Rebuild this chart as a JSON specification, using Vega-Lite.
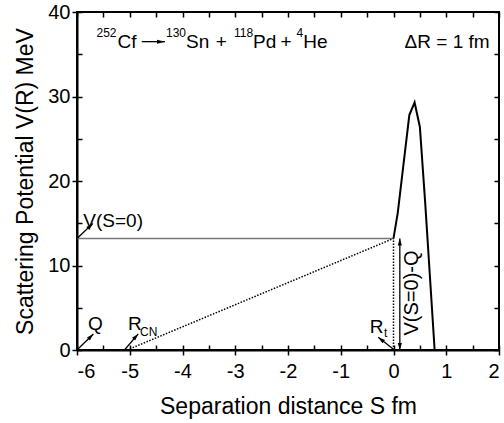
{
  "$schema": "https://vega.github.io/schema/vega-lite/v6.json",
  "width": 422,
  "height": 338,
  "autosize": "none",
  "padding": {"left": 77, "top": 12, "right": 5, "bottom": 73},
  "background": "white",
  "config": {
    "view": {"stroke": "black", "strokeWidth": 2},
    "font": "Liberation Sans",
    "axis": {"labelFont": "Liberation Sans", "titleFont": "Liberation Sans", "labelColor": "black", "titleColor": "black", "tickColor": "black", "domainColor": "black", "tickWidth": 1.5, "domainWidth": 2, "grid": false, "labelFontSize": 20, "titleFontSize": 23, "titleFontWeight": "normal"},
    "text": {"font": "Liberation Sans", "color": "black"}
  },
  "datasets": {
    "curve": [
      {"S": 0, "V": 13.2},
      {"S": 0.08, "V": 16.2},
      {"S": 0.3, "V": 27.8},
      {"S": 0.4, "V": 29.3},
      {"S": 0.5, "V": 26.4},
      {"S": 0.6, "V": 17.5},
      {"S": 0.78, "V": 0}
    ],
    "flat": [{"S": -6, "V": 13.2}, {"S": 0, "V": 13.2}],
    "dotted": [
      {"seg": "a", "S": -5.05, "V": 0}, {"seg": "a", "S": 0, "V": 13.2},
      {"seg": "b", "S": 0, "V": 0}, {"seg": "b", "S": 0, "V": 13.2}
    ],
    "arrows": [
      {"name": "Q", "x": -6, "y": 0, "x2": -5.69, "y2": 1.9},
      {"name": "RCN", "x": -5.1, "y": 0, "x2": -4.84, "y2": 1.9},
      {"name": "VS0", "x": -6, "y": 13.2, "x2": -5.7, "y2": 14.96},
      {"name": "Rt", "x": 0, "y": 0.1, "x2": -0.29, "y2": 1.5},
      {"name": "double", "x": 0.12, "y": 0, "x2": 0.12, "y2": 13.2},
      {"name": "reaction", "x": -4.773, "y": 36.49, "x2": -4.332, "y2": 36.49}
    ],
    "labels": [
      {"kind": "main", "text": "Q", "x": -5.79, "y": 2.33},
      {"kind": "main", "text": "R", "x": -5.033, "y": 2.37},
      {"kind": "small", "text": "CN", "x": -4.806, "y": 1.66},
      {"kind": "main", "text": "V(S=0)", "x": -5.88, "y": 14.59},
      {"kind": "main", "text": "R", "x": -0.45, "y": 2.01},
      {"kind": "small", "text": "t", "x": -0.18, "y": 1.54},
      {"kind": "main", "text": "ΔR = 1 fm", "x": 0.21, "y": 35.7},
      {"kind": "small", "text": "252", "x": -5.63, "y": 37.04},
      {"kind": "main", "text": "Cf", "x": -5.232, "y": 35.7},
      {"kind": "small", "text": "130", "x": -4.313, "y": 37.04},
      {"kind": "main", "text": "Sn", "x": -3.934, "y": 35.7},
      {"kind": "main", "text": "+", "x": -3.37, "y": 35.7},
      {"kind": "small", "text": "118", "x": -3.024, "y": 37.04},
      {"kind": "main", "text": "Pd", "x": -2.664, "y": 35.7},
      {"kind": "main", "text": "+", "x": -2.14, "y": 35.7},
      {"kind": "small", "text": "4", "x": -1.84, "y": 37.04},
      {"kind": "main", "text": "He", "x": -1.71, "y": 35.7}
    ],
    "vlabel": [{"text": "V(S=0)-Q", "x": 0.351, "y": 6.75}]
  },
  "resolve": {"axis": {"x": "independent", "y": "independent"}},
  "layer": [
    {
      "data": {"name": "curve"},
      "mark": {"type": "line", "color": "black", "strokeWidth": 2},
      "encoding": {
        "x": {"field": "S", "type": "quantitative", "scale": {"domain": [-6, 2], "nice": false, "zero": false},
              "axis": {"orient": "bottom", "values": [-6, -5, -4, -3, -2, -1, 0, 1, 2], "tickSize": 5, "labelPadding": 6, "title": "Separation distance S fm", "titlePadding": 14, "labelExpr": "datum.value < 0 ? '-' + abs(datum.value) : '' + datum.value"}},
        "y": {"field": "V", "type": "quantitative", "scale": {"domain": [0, 40], "nice": false},
              "axis": {"orient": "left", "values": [0, 10, 20, 30, 40], "tickSize": 5, "labelPadding": 2, "title": "Scattering Potential V(R) MeV", "titlePadding": 10}}
      }
    },
    {
      "data": {"name": "flat"},
      "mark": {"type": "line", "color": "#777777", "strokeWidth": 1.5},
      "encoding": {
        "x": {"field": "S", "type": "quantitative",
              "axis": {"orient": "bottom", "values": [-6, -5.5, -5, -4.5, -4, -3.5, -3, -2.5, -2, -1.5, -1, -0.5, 0, 0.5, 1, 1.5, 2], "tickSize": -5, "labels": false, "domain": false, "title": null}},
        "y": {"field": "V", "type": "quantitative",
              "axis": {"orient": "left", "values": [0, 5, 10, 15, 20, 25, 30, 35, 40], "tickSize": -5, "labels": false, "domain": false, "title": null}}
      }
    },
    {
      "data": {"name": "dotted"},
      "mark": {"type": "line", "color": "black", "strokeWidth": 1.5, "strokeDash": [1.5, 1.5]},
      "encoding": {
        "detail": {"field": "seg"},
        "x": {"field": "S", "type": "quantitative",
              "axis": {"orient": "top", "values": [-6, -5.5, -5, -4.5, -4, -3.5, -3, -2.5, -2, -1.5, -1, -0.5, 0, 0.5, 1, 1.5, 2], "tickSize": -5, "labels": false, "domain": false, "title": null}},
        "y": {"field": "V", "type": "quantitative",
              "axis": {"orient": "right", "values": [0, 5, 10, 15, 20, 25, 30, 35, 40], "tickSize": -5, "labels": false, "domain": false, "title": null}}
      }
    },
    {
      "data": {"name": "arrows"},
      "mark": {"type": "rule", "color": "black", "strokeWidth": 1.3},
      "encoding": {
        "x": {"field": "x", "type": "quantitative", "axis": null},
        "y": {"field": "y", "type": "quantitative", "axis": null},
        "x2": {"field": "x2"},
        "y2": {"field": "y2"}
      }
    },
    {
      "data": {"name": "arrows"},
      "transform": [{"filter": "datum.name === 'Q' || datum.name === 'VS0'"}],
      "mark": {"type": "point", "filled": true, "color": "black", "opacity": 1, "shape": "M0,0L-0.6,2L0.6,2Z", "size": 49, "angle": 45},
      "encoding": {
        "x": {"field": "x2", "type": "quantitative", "axis": null},
        "y": {"field": "y2", "type": "quantitative", "axis": null}
      }
    },
    {
      "data": {"name": "arrows"},
      "transform": [{"filter": "datum.name === 'RCN'"}],
      "mark": {"type": "point", "filled": true, "color": "black", "opacity": 1, "shape": "M0,0L-0.6,2L0.6,2Z", "size": 49, "angle": 41},
      "encoding": {
        "x": {"field": "x2", "type": "quantitative", "axis": null},
        "y": {"field": "y2", "type": "quantitative", "axis": null}
      }
    },
    {
      "data": {"name": "arrows"},
      "transform": [{"filter": "datum.name === 'Rt'"}],
      "mark": {"type": "point", "filled": true, "color": "black", "opacity": 1, "shape": "M0,0L-0.6,2L0.6,2Z", "size": 49, "angle": 308},
      "encoding": {
        "x": {"field": "x2", "type": "quantitative", "axis": null},
        "y": {"field": "y2", "type": "quantitative", "axis": null}
      }
    },
    {
      "data": {"name": "arrows"},
      "transform": [{"filter": "datum.name === 'double'"}],
      "mark": {"type": "point", "filled": true, "color": "black", "opacity": 1, "shape": "M0,0L-0.6,2L0.6,2Z", "size": 49, "angle": 0},
      "encoding": {
        "x": {"field": "x2", "type": "quantitative", "axis": null},
        "y": {"field": "y2", "type": "quantitative", "axis": null}
      }
    },
    {
      "data": {"name": "arrows"},
      "transform": [{"filter": "datum.name === 'double'"}],
      "mark": {"type": "point", "filled": true, "color": "black", "opacity": 1, "shape": "M0,0L-0.6,2L0.6,2Z", "size": 49, "angle": 180},
      "encoding": {
        "x": {"field": "x", "type": "quantitative", "axis": null},
        "y": {"field": "y", "type": "quantitative", "axis": null}
      }
    },
    {
      "data": {"name": "arrows"},
      "transform": [{"filter": "datum.name === 'reaction'"}],
      "mark": {"type": "point", "filled": true, "color": "black", "opacity": 1, "shape": "M0,0L-0.8,3.2L0.8,3.2Z", "size": 25, "angle": 90},
      "encoding": {
        "x": {"field": "x2", "type": "quantitative", "axis": null},
        "y": {"field": "y2", "type": "quantitative", "axis": null}
      }
    },
    {
      "data": {"name": "labels"},
      "transform": [{"filter": "datum.kind === 'main'"}],
      "mark": {"type": "text", "align": "left", "baseline": "alphabetic", "fontSize": 19},
      "encoding": {
        "x": {"field": "x", "type": "quantitative", "axis": null},
        "y": {"field": "y", "type": "quantitative", "axis": null},
        "text": {"field": "text"}
      }
    },
    {
      "data": {"name": "labels"},
      "transform": [{"filter": "datum.kind === 'small'"}],
      "mark": {"type": "text", "align": "left", "baseline": "alphabetic", "fontSize": 12},
      "encoding": {
        "x": {"field": "x", "type": "quantitative", "axis": null},
        "y": {"field": "y", "type": "quantitative", "axis": null},
        "text": {"field": "text"}
      }
    },
    {
      "data": {"name": "vlabel"},
      "mark": {"type": "text", "align": "center", "baseline": "middle", "fontSize": 20, "angle": 270},
      "encoding": {
        "x": {"field": "x", "type": "quantitative", "axis": null},
        "y": {"field": "y", "type": "quantitative", "axis": null},
        "text": {"field": "text"}
      }
    }
  ]
}
